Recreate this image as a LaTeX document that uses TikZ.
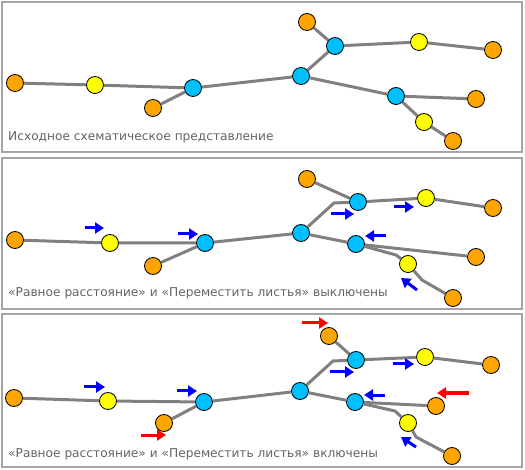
\documentclass[tikz,border=0pt]{standalone}
\usepackage{fontspec}
\setmainfont{DejaVu Sans}
\usetikzlibrary{arrows.meta}
\usetikzlibrary{positioning}
\definecolor{leafcol}{RGB}{255,165,0}
\definecolor{midcol}{RGB}{255,255,0}
\definecolor{hubcol}{RGB}{0,191,255}
\definecolor{edgecol}{RGB}{128,128,128}
\definecolor{framecol}{RGB}{165,165,165}
\definecolor{captcol}{RGB}{100,100,100}
\tikzset{
    vertex/.style={
           circle,
           draw=black, line width=0.8pt,
           minimum size=17pt,
           inner sep=0pt,
           },
    leaf/.style={vertex, fill=leafcol},
    mid/.style={vertex, fill=midcol},
    hub/.style={vertex, fill=hubcol},
    link/.style={draw=edgecol, line width=3pt},
    frame/.style={draw=framecol, line width=2pt},
    caption/.style={
           anchor=west,
           text=captcol,
           font=\fontsize{12.2}{14}\selectfont,
           inner sep=0pt,
           },
    movearrow/.style={line width=3pt, -{Triangle[length=9pt,width=11pt]}},
}

\begin{document}
\begin{tikzpicture}[x=1pt,y=-1pt]

 \useasboundingbox (0,0) rectangle (525,470);
 \fill[white] (0,0) rectangle (525,470);
 \draw[frame] (2,2) rectangle (522,152);
 \draw[frame] (2,158) rectangle (522,309);
 \draw[frame] (2,314) rectangle (522,467);

 % source layout
 \node[leaf] (a1) at (15,83) {};
 \node[mid]  (a2) at (95,85) {};
 \node[hub]  (a3) at (193,88) {};
 \node[leaf] (a4) at (153,108) {};
 \node[hub]  (a5) at (301,76) {};
 \node[hub]  (a6) at (335,46) {};
 \node[leaf] (a7) at (307,22) {};
 \node[mid]  (a8) at (419,42) {};
 \node[leaf] (a9) at (493,50) {};
 \node[hub]  (a10) at (396,96) {};
 \node[leaf] (a11) at (476,99) {};
 \node[mid]  (a12) at (424,122) {};
 \node[leaf] (a13) at (453,141) {};
 \draw[link] (a1) -- (a2) -- (a3) -- (a5) -- (a10) -- (a11);
 \draw[link] (a3) -- (a4);
 \draw[link] (a5) -- (a6) -- (a8) -- (a9);
 \draw[link] (a6) -- (a7);
 \draw[link] (a10) -- (a12) -- (a13);
 \node[caption] (acap) at (8,137) {Исходное схематическое представление};

 % equal spacing and move leaves off
 \coordinate (bk1) at (334,203);
 \coordinate (bk2) at (396,255);
 \coordinate (bk3) at (422,280);
 \node[leaf] (b1) at (15,240) {};
 \node[mid]  (b2) at (110,243) {};
 \node[hub]  (b3) at (205,243) {};
 \node[leaf] (b4) at (153,266) {};
 \node[hub]  (b5) at (301,233) {};
 \node[hub]  (b6) at (358,202) {};
 \node[leaf] (b7) at (307,179) {};
 \node[mid]  (b8) at (426,198) {};
 \node[leaf] (b9) at (493,208) {};
 \node[hub]  (b10) at (356,244) {};
 \node[leaf] (b11) at (476,257) {};
 \node[mid]  (b12) at (408,264) {};
 \node[leaf] (b13) at (453,298) {};
 \draw[link] (b1) -- (b2) -- (b3) -- (b5) -- (bk1) -- (b6) -- (b8) -- (b9);
 \draw[link] (b3) -- (b4);
 \draw[link] (b6) -- (b7);
 \draw[link] (b5) -- (b10) -- (b11);
 \draw[link] (b10) -- (bk2) -- (b12) -- (bk3) -- (b13);
 \node[caption] (bcap) at (8,293) {«Равное расстояние» и «Переместить листья» выключены};

 \coordinate (bs1) at (85,228);  \coordinate (be1) at (104,228);
 \coordinate (bs2) at (178,234); \coordinate (be2) at (198,234);
 \coordinate (bs3) at (331,214); \coordinate (be3) at (354,214);
 \coordinate (bs4) at (394,207); \coordinate (be4) at (414,207);
 \coordinate (bs5) at (386,236); \coordinate (be5) at (365,236);
 \coordinate (bs6) at (417,290); \coordinate (be6) at (401,278);
 \foreach \i in {1,...,6}
   \draw[movearrow, blue] (bs\i) -- (be\i);

 % equal spacing and move leaves on
 \coordinate (ck1) at (333,361);
 \coordinate (ck2) at (395,411);
 \coordinate (ck3) at (416,437);
 \node[leaf] (c1) at (14,398) {};
 \node[mid]  (c2) at (108,401) {};
 \node[hub]  (c3) at (204,402) {};
 \node[leaf] (c4) at (164,423) {};
 \node[hub]  (c5) at (300,391) {};
 \node[hub]  (c6) at (356,360) {};
 \node[leaf] (c7) at (329,336) {};
 \node[mid]  (c8) at (425,357) {};
 \node[leaf] (c9) at (491,365) {};
 \node[hub]  (c10) at (355,402) {};
 \node[leaf] (c11) at (436,406) {};
 \node[mid]  (c12) at (408,423) {};
 \node[leaf] (c13) at (452,456) {};
 \draw[link] (c1) -- (c2) -- (c3) -- (c5) -- (ck1) -- (c6) -- (c8) -- (c9);
 \draw[link] (c3) -- (c4);
 \draw[link] (c6) -- (c7);
 \draw[link] (c5) -- (c10) -- (c11);
 \draw[link] (c10) -- (ck2) -- (c12) -- (ck3) -- (c13);
 \node[caption] (ccap) at (8,454) {«Равное расстояние» и «Переместить листья» включены};

 \coordinate (cs1) at (84,387);  \coordinate (ce1) at (105,387);
 \coordinate (cs2) at (177,391); \coordinate (ce2) at (197,391);
 \coordinate (cs3) at (330,372); \coordinate (ce3) at (354,372);
 \coordinate (cs4) at (393,364); \coordinate (ce4) at (414,364);
 \coordinate (cs5) at (385,395); \coordinate (ce5) at (364,395);
 \coordinate (cs6) at (416,447); \coordinate (ce6) at (401,437);
 \foreach \i in {1,...,6}
   \draw[movearrow, blue] (cs\i) -- (ce\i);
 \coordinate (rs1) at (302,323); \coordinate (re1) at (328,323);
 \coordinate (rs2) at (141,435); \coordinate (re2) at (166,435);
 \coordinate (rs3) at (469,393); \coordinate (re3) at (437,393);
 \foreach \i in {1,2,3}
   \draw[movearrow, red] (rs\i) -- (re\i);

\end{tikzpicture}
\end{document}
